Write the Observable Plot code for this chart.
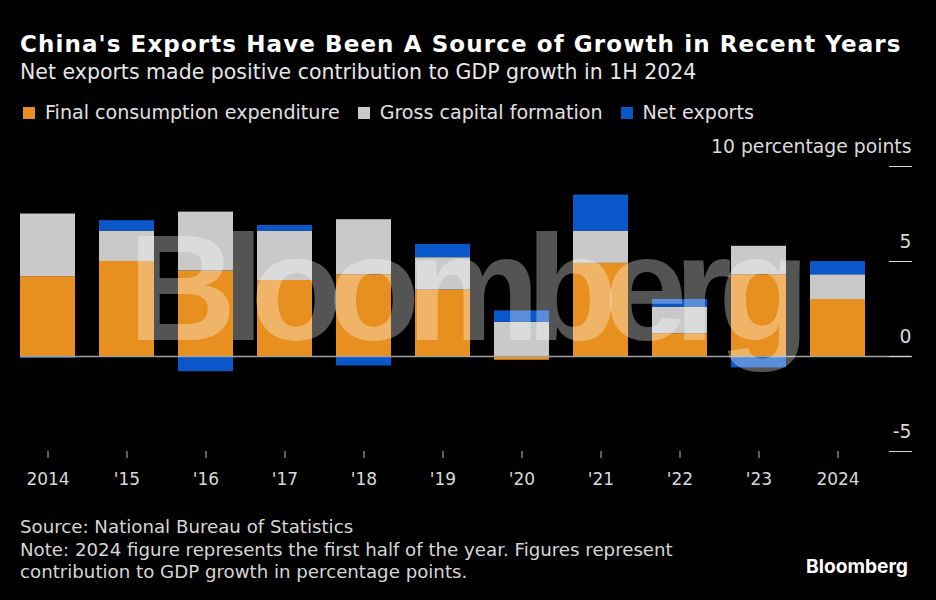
<!DOCTYPE html>
<html>
<head>
<meta charset="utf-8">
<script src="https://cdn.jsdelivr.net/npm/d3@7"></script>
<script src="https://cdn.jsdelivr.net/npm/@observablehq/plot@0.6"></script>
<style>
  html, body { margin: 0; padding: 0; background: #000; }
  body { width: 936px; height: 600px; position: relative; overflow: hidden; font-family: "DejaVu Sans", sans-serif; }
  .abs { position: absolute; left: 20px; white-space: nowrap; }
  #title { top: 30px; font-size: 23px; line-height: 28px; font-weight: bold; color: #fff; letter-spacing: 1.1px; }
  #subtitle { top: 60px; font-size: 20.5px; line-height: 25px; color: #e6e6e6; }
  #legend { top: 101px; font-size: 19.1px; line-height: 23px; color: #e0e0e0; display: flex; left: 23px; }
  .item { display: flex; align-items: center; margin-right: 18px; }
  .sw { width: 12px; height: 12px; margin-right: 10px; }
  #chart { position: absolute; left: 0; top: 130px; }
  #footer { top: 516px; font-size: 18.2px; line-height: 22.5px; color: #d6d6d6; }
  #overlay { position: absolute; left: 0; top: 0; pointer-events: none; }
</style>
</head>
<body>
<div id="title" class="abs">China's Exports Have Been A Source of Growth in Recent Years</div>
<div id="subtitle" class="abs">Net exports made positive contribution to GDP growth in 1H 2024</div>
<div id="legend" class="abs"></div>
<div id="chart"></div>
<div id="footer" class="abs">Source: National Bureau of Statistics<br>Note: 2024 figure represents the first half of the year. Figures represent<br>contribution to GDP growth in percentage points.</div>
<svg id="overlay" width="936" height="600">
  <text x="128" y="340" font-family="Liberation Sans, Arial, sans-serif" font-weight="bold" font-size="150" fill="#fff" fill-opacity="0.33" textLength="682" lengthAdjust="spacing">Bloomberg</text>
  <text x="806" y="573" font-family="Inter, Liberation Sans, sans-serif" font-weight="bold" font-size="19" fill="#fff" textLength="102" lengthAdjust="spacingAndGlyphs">Bloomberg</text>
</svg>
<script>
const years = ["2014", "'15", "'16", "'17", "'18", "'19", "'20", "'21", "'22", "'23", "2024"];
const seriesNames = ["Final consumption expenditure", "Gross capital formation", "Net exports"];
const seriesColors = ["#E8901F", "#C9C9C9", "#0A57C9"];
const consumption = [4.2, 5.0, 4.5, 4.0, 4.3, 3.5, -0.2, 4.9, 1.2, 4.3, 3.0];
const capital     = [3.3, 1.6, 3.1, 2.6, 2.9, 1.7, 1.8, 1.7, 1.4, 1.5, 1.3];
const netExports  = [-0.1, 0.55, -0.8, 0.3, -0.5, 0.7, 0.6, 1.9, 0.4, -0.6, 0.7];
const yTicks = [-5, 0, 5, 10];

const seriesValues = [consumption, capital, netExports];
const data = [];
seriesNames.forEach((s, i) => years.forEach((y, j) => data.push({year: y, series: s, value: seriesValues[i][j]})));

// legend
const legend = document.getElementById("legend");
seriesNames.forEach((s, i) => {
  const it = document.createElement("div");
  it.className = "item";
  const sw = document.createElement("div");
  sw.className = "sw";
  sw.style.background = seriesColors[i];
  const t = document.createElement("span");
  t.textContent = s;
  it.appendChild(sw); it.appendChild(t);
  legend.appendChild(it);
});

const chart = Plot.plot({
  width: 936,
  height: 370,
  marginTop: 36,
  marginBottom: 49,
  marginLeft: 20,
  marginRight: 25,
  style: {background: "transparent", color: "#d9d9d9", fontFamily: "DejaVu Sans, sans-serif", fontSize: "17px"},
  x: {domain: years, range: [15.4, 869.6], paddingInner: 0.3, paddingOuter: 0.05, label: null},
  y: {domain: [-5, 10], label: null},
  color: {domain: seriesNames, range: seriesColors},
  marks: [
    Plot.barY(data, {x: "year", y: "value", fill: "series", order: seriesNames}),
    Plot.ruleY([0], {stroke: "#a0a0a0", strokeWidth: 1.5}),
    Plot.axisY({anchor: "right", ticks: yTicks, tickSize: 23, dx: -23, tickFormat: () => "", stroke: "#d9d9d9", label: null}),
    Plot.axisY({anchor: "right", ticks: yTicks, tickSize: 0, tickPadding: 0, textAnchor: "end", dy: -20, fill: "#d9d9d9",
      fontSize: 18.8, tickFormat: d => d === 10 ? "10 percentage points" : String(d), label: null}),
    Plot.axisX({tickSize: 7, tickPadding: 14, stroke: "#bdbdbd", fill: "#d9d9d9", label: null})
  ]
});
document.getElementById("chart").appendChild(chart);
</script>
</body>
</html>
